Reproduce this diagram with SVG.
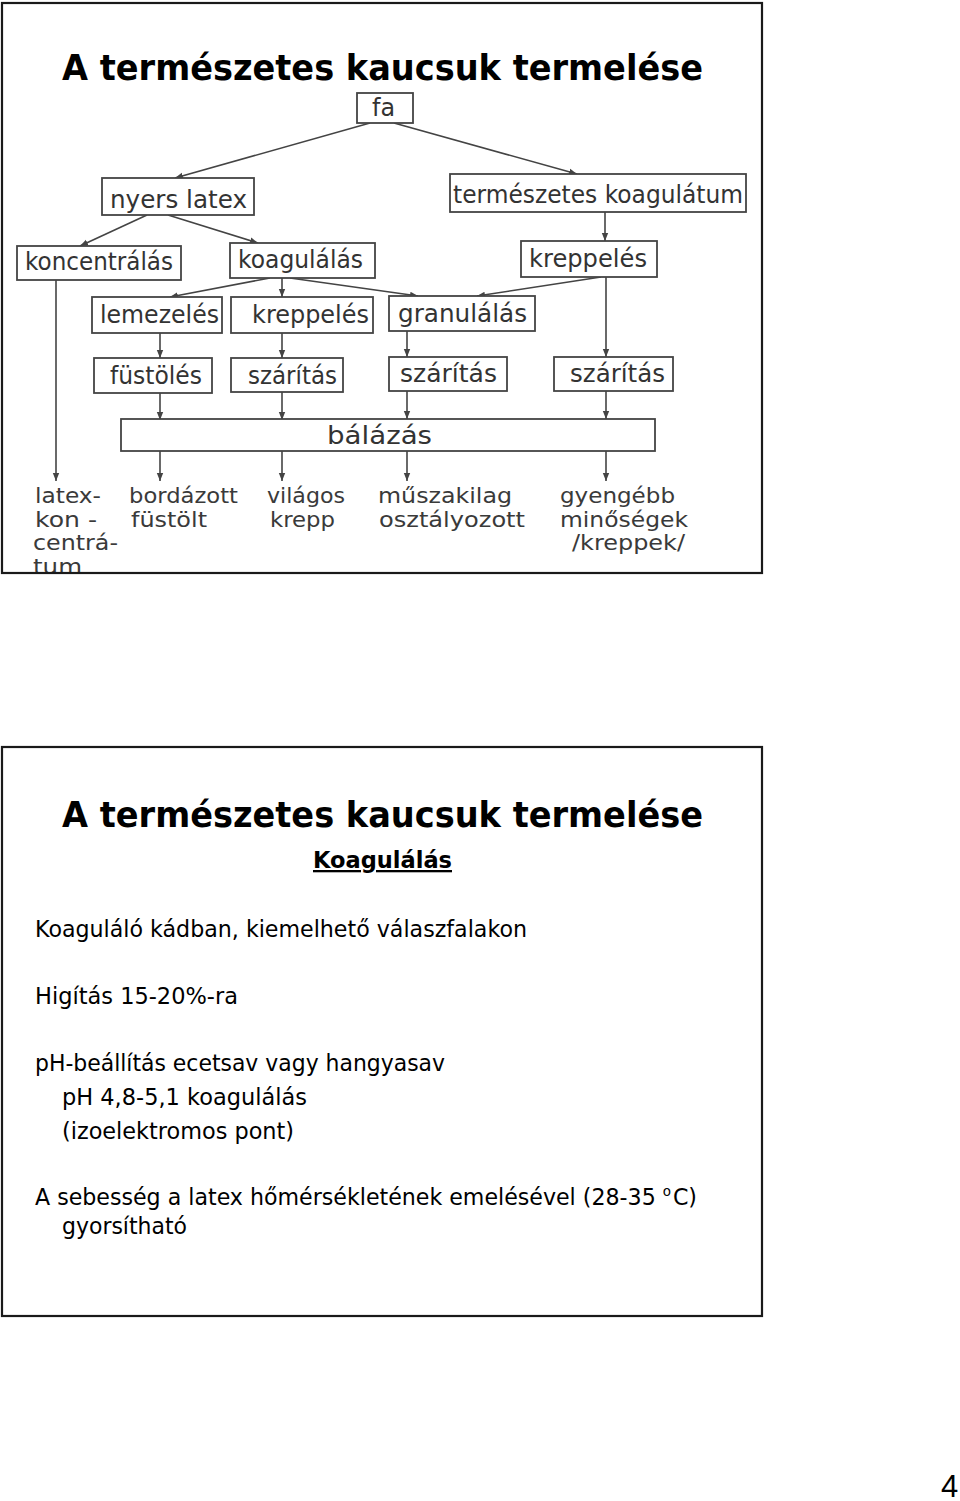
<svg xmlns="http://www.w3.org/2000/svg" width="960" height="1501" viewBox="0 0 960 1501">
<style>
.frame{fill:none;stroke:#1a1a1a;stroke-width:2.2}
.title{font-family:"DejaVu Sans",Verdana,sans-serif;font-weight:bold;font-size:35px;fill:#000}
.box{fill:#fff;stroke:#444;stroke-width:1.8}
.lbl{font-family:"DejaVu Sans","Liberation Sans",sans-serif;font-size:24px;fill:#333}
.out{font-family:"DejaVu Sans","Liberation Sans",sans-serif;font-size:21px;fill:#3a3a3a}
.con{fill:none;stroke:#444;stroke-width:1.6;marker-end:url(#ah)}
.body{font-family:"DejaVu Sans",Tahoma,sans-serif;font-size:23px;fill:#000}
</style>
<defs>
<marker id="ah" viewBox="0 0 10 10" refX="10" refY="5" markerWidth="8" markerHeight="8" markerUnits="userSpaceOnUse" orient="auto">
<path d="M0,1 L10,5 L0,9 z" fill="#444"/>
</marker>
<clipPath id="c1"><rect x="2" y="3" width="760" height="570"/></clipPath>
</defs>
<rect width="960" height="1501" fill="#fff"/>

<!-- Slide 1 -->
<g id="slide1">
<text class="title" x="62" y="80" textLength="641" lengthAdjust="spacingAndGlyphs">A természetes kaucsuk termelése</text>
</g>

<g id="connectors">
<line class="con" x1="370" y1="123" x2="175" y2="178"/>
<line class="con" x1="394" y1="123" x2="577" y2="174"/>
<line class="con" x1="147" y1="215" x2="80" y2="246"/>
<line class="con" x1="168" y1="215" x2="258" y2="243"/>
<line class="con" x1="605" y1="212" x2="605" y2="241"/>
<line class="con" x1="56" y1="280" x2="56" y2="481"/>
<line class="con" x1="270" y1="278" x2="170" y2="297"/>
<line class="con" x1="282" y1="278" x2="282" y2="297"/>
<line class="con" x1="290" y1="278" x2="418" y2="296"/>
<line class="con" x1="601" y1="277" x2="477" y2="296"/>
<line class="con" x1="606" y1="277" x2="606" y2="357"/>
<line class="con" x1="160" y1="333" x2="160" y2="358"/>
<line class="con" x1="282" y1="333" x2="282" y2="358"/>
<line class="con" x1="407" y1="331" x2="407" y2="357"/>
<line class="con" x1="160" y1="393" x2="160" y2="420"/>
<line class="con" x1="282" y1="392" x2="282" y2="420"/>
<line class="con" x1="407" y1="391" x2="407" y2="419"/>
<line class="con" x1="606" y1="391" x2="606" y2="419"/>
<line class="con" x1="160" y1="451" x2="160" y2="481"/>
<line class="con" x1="282" y1="451" x2="282" y2="481"/>
<line class="con" x1="407" y1="451" x2="407" y2="481"/>
<line class="con" x1="606" y1="451" x2="606" y2="481"/>
</g>

<g id="n-fa"><rect class="box" x="357" y="93" width="56" height="30"/><text class="lbl" x="372" y="116" textLength="23" lengthAdjust="spacingAndGlyphs">fa</text></g>
<g id="n-nyers"><rect class="box" x="102" y="178" width="152" height="37"/><text class="lbl" x="110" y="208" textLength="137" lengthAdjust="spacingAndGlyphs">nyers latex</text></g>
<g id="n-termkoag"><rect class="box" x="450" y="174" width="296" height="38"/><text class="lbl" x="453" y="203" textLength="290" lengthAdjust="spacingAndGlyphs">természetes koagulátum</text></g>
<g id="n-koncentr"><rect class="box" x="17" y="246" width="164" height="34"/><text class="lbl" x="25" y="270" textLength="148" lengthAdjust="spacingAndGlyphs">koncentrálás</text></g>
<g id="n-koagul"><rect class="box" x="230" y="243" width="145" height="35"/><text class="lbl" x="238" y="268" textLength="125" lengthAdjust="spacingAndGlyphs">koagulálás</text></g>
<g id="n-krepp-r"><rect class="box" x="521" y="241" width="136" height="36"/><text class="lbl" x="529" y="267" textLength="118" lengthAdjust="spacingAndGlyphs">kreppelés</text></g>
<g id="n-lemez"><rect class="box" x="92" y="297" width="130" height="36"/><text class="lbl" x="100" y="323" textLength="119" lengthAdjust="spacingAndGlyphs">lemezelés</text></g>
<g id="n-krepp-m"><rect class="box" x="231" y="297" width="142" height="36"/><text class="lbl" x="252" y="323" textLength="117" lengthAdjust="spacingAndGlyphs">kreppelés</text></g>
<g id="n-granul"><rect class="box" x="389" y="296" width="146" height="35"/><text class="lbl" x="398" y="322" textLength="129" lengthAdjust="spacingAndGlyphs">granulálás</text></g>
<g id="n-fust"><rect class="box" x="94" y="358" width="118" height="35"/><text class="lbl" x="110" y="384" textLength="92" lengthAdjust="spacingAndGlyphs">füstölés</text></g>
<g id="n-szar1"><rect class="box" x="231" y="358" width="112" height="34"/><text class="lbl" x="248" y="384" textLength="89" lengthAdjust="spacingAndGlyphs">szárítás</text></g>
<g id="n-szar2"><rect class="box" x="389" y="357" width="118" height="34"/><text class="lbl" x="400" y="382" textLength="97" lengthAdjust="spacingAndGlyphs">szárítás</text></g>
<g id="n-szar3"><rect class="box" x="554" y="357" width="119" height="34"/><text class="lbl" x="570" y="382" textLength="95" lengthAdjust="spacingAndGlyphs">szárítás</text></g>
<g id="n-balaz"><rect class="box" x="121" y="419" width="534" height="32"/><text class="lbl" x="327" y="444" textLength="105" lengthAdjust="spacingAndGlyphs">bálázás</text></g>

<g id="outputs" clip-path="url(#c1)">
<g id="o-latexkonc">
<text class="out" x="35" y="503" textLength="66" lengthAdjust="spacingAndGlyphs">latex-</text>
<text class="out" x="35" y="527" textLength="62" lengthAdjust="spacingAndGlyphs">kon -</text>
<text class="out" x="33" y="550" textLength="85" lengthAdjust="spacingAndGlyphs">centrá-</text>
<text class="out" x="33" y="574" textLength="49" lengthAdjust="spacingAndGlyphs">tum</text>
</g>
<g id="o-bordazott">
<text class="out" x="129" y="503" textLength="109" lengthAdjust="spacingAndGlyphs">bordázott</text>
<text class="out" x="131" y="527" textLength="76" lengthAdjust="spacingAndGlyphs">füstölt</text>
</g>
<g id="o-vilagos">
<text class="out" x="267" y="503" textLength="78" lengthAdjust="spacingAndGlyphs">világos</text>
<text class="out" x="270" y="527" textLength="65" lengthAdjust="spacingAndGlyphs">krepp</text>
</g>
<g id="o-muszaki">
<text class="out" x="378" y="503" textLength="134" lengthAdjust="spacingAndGlyphs">műszakilag</text>
<text class="out" x="379" y="527" textLength="146" lengthAdjust="spacingAndGlyphs">osztályozott</text>
</g>
<g id="o-gyengebb">
<text class="out" x="560" y="503" textLength="115" lengthAdjust="spacingAndGlyphs">gyengébb</text>
<text class="out" x="560" y="527" textLength="128" lengthAdjust="spacingAndGlyphs">minőségek</text>
<text class="out" x="572" y="550" textLength="113" lengthAdjust="spacingAndGlyphs">/kreppek/</text>
</g>
</g>
<rect class="frame" x="2" y="3" width="760" height="570"/>

<!-- Slide 2 -->
<g id="slide2">
<rect class="frame" x="2" y="747" width="760" height="569"/>
<text class="title" x="62" y="827" textLength="641" lengthAdjust="spacingAndGlyphs">A természetes kaucsuk termelése</text>
<text class="body" x="313" y="868" font-weight="bold" text-decoration="underline" textLength="139" lengthAdjust="spacingAndGlyphs">Koagulálás</text>
<text class="body" x="35" y="937" textLength="492" lengthAdjust="spacingAndGlyphs">Koaguláló kádban, kiemelhető válaszfalakon</text>
<text class="body" x="35" y="1004" textLength="203" lengthAdjust="spacingAndGlyphs">Higítás 15-20%-ra</text>
<text class="body" x="35" y="1071" textLength="410" lengthAdjust="spacingAndGlyphs">pH-beállítás ecetsav vagy hangyasav</text>
<text class="body" x="62" y="1105" textLength="245" lengthAdjust="spacingAndGlyphs">pH 4,8-5,1 koagulálás</text>
<text class="body" x="62" y="1139" textLength="232" lengthAdjust="spacingAndGlyphs">(izoelektromos pont)</text>
<text class="body" x="35" y="1205" textLength="662" lengthAdjust="spacingAndGlyphs">A sebesség a latex hőmérsékletének emelésével (28-35 <tspan font-size="14" dy="-9">o</tspan><tspan dx="2" dy="9">C)</tspan></text>
<text class="body" x="62" y="1234" textLength="125" lengthAdjust="spacingAndGlyphs">gyorsítható</text>
</g>

<text id="pagenum" x="941" y="1497" font-family="Liberation Sans,Arial,sans-serif" font-size="31" fill="#000">4</text>
</svg>
